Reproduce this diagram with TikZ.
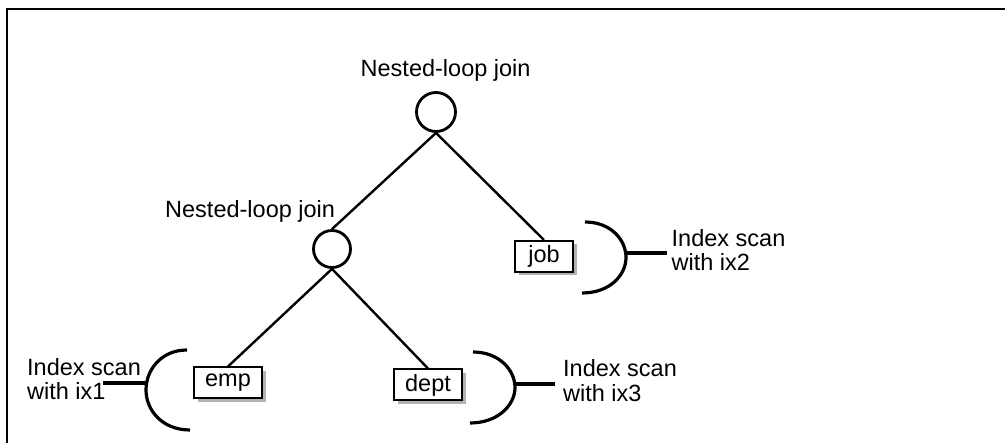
\documentclass[tikz,border=0pt]{standalone}
\usepackage{fontspec}
\setmainfont{Liberation Sans}
\usetikzlibrary{shadows}
\begin{document}
\begin{tikzpicture}[x=1pt,y=-1pt,
  lbl/.style={inner sep=0pt, anchor=base west, align=left, font=\fontsize{23.5}{24.5}\selectfont},
  joinnode/.style={circle, draw, line width=2.8pt, inner sep=0pt},
  tbl/.style={draw, line width=2pt, fill=white, minimum height=31pt, inner sep=0pt,
    font=\fontsize{23.5}{25}\selectfont,
    drop shadow={shadow xshift=3.5pt, shadow yshift=-3.5pt, fill=black!30, opacity=1}},
  edgeline/.style={line width=2.4pt},
  brk/.style={line width=3.2pt},
]
\useasboundingbox (0,0) rectangle (1005,443);
% frame
\draw[line width=2.2pt] (1005,9) -- (7,9) -- (7,443);

% join nodes
\node[joinnode, minimum size=39pt] (top) at (436,112) {};
\node[joinnode, minimum size=37pt] (mid) at (332,249) {};
\node[lbl] (toplbl) at (360.5,76.7) {Nested-loop join};
\node[lbl] (midlbl) at (165,218) {Nested-loop join};

% tables
\node[tbl, minimum width=58pt] (job) at (544,256.5) {job};
\node[tbl, minimum width=68pt] (dept) at (428,385) {dept};
\node[tbl, minimum width=68pt] (emp) at (228,383) {emp};

% edges
\draw[edgeline] (top.south) -- (mid.north);
\draw[edgeline] (top.south) -- (job.north);
\draw[edgeline] (mid.south) -- (emp.north);
\draw[edgeline] (mid.south) -- (dept.north);

% brackets
\coordinate (jobA) at (585,222);
\coordinate (jobB) at (582,293);
\coordinate (jobC) at (626,253);
\coordinate (jobD) at (667,253);
\draw[brk] (jobA) .. controls (611,222) and (626,240) .. (626,257.5) .. controls (626,275) and (610,293) .. (jobB);
\draw[brk] (jobC) -- (jobD);
\node[lbl] (joblbl) at (671.5,271) {Index scan\\with ix2};

\coordinate (deptA) at (473,352);
\coordinate (deptB) at (470,423);
\coordinate (deptC) at (515,384);
\coordinate (deptD) at (555,384);
\draw[brk] (deptA) .. controls (499,352) and (515,370) .. (515,387.5) .. controls (515,405) and (498,423) .. (deptB);
\draw[brk] (deptC) -- (deptD);
\node[lbl] (deptlbl) at (563,401.5) {Index scan\\with ix3};

\coordinate (empA) at (187,350);
\coordinate (empB) at (190,430);
\coordinate (empC) at (147,383);
\coordinate (empD) at (103,383);
\draw[brk] (empA) .. controls (161,350) and (146,370) .. (146,390) .. controls (146,410) and (162,430) .. (empB);
\draw[brk] (empC) -- (empD);
\node[lbl] (emplbl) at (27,400) {Index scan\\with ix1};
\end{tikzpicture}
\end{document}
